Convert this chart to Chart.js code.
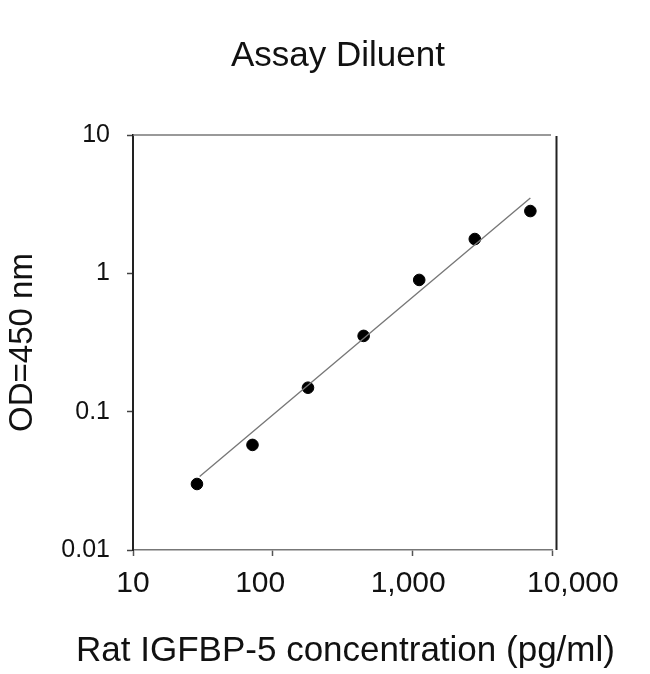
<!DOCTYPE html>
<html>
<head>
<meta charset="utf-8">
<title>Assay Diluent</title>
<script src="https://cdn.jsdelivr.net/npm/chart.js@4"></script>
<style>
  html, body { margin: 0; padding: 0; background: #fff; }
  #chart { display: block; }
</style>
</head>
<body>
<canvas id="chart" width="650" height="674"></canvas>
<script>
// standard curve points
const concentrations = [28.7, 71.7, 179, 448, 1120, 2800, 7000];
const odValues = [0.030, 0.0575, 0.149, 0.353, 0.896, 1.77, 2.82];

// fitted line ends
const fitX = [30, 7000];
const fitY = [0.034, 3.5];

// axis ticks
const xTickValues = [10, 100, 1000, 10000];
const yTickValues = [0.01, 0.1, 1, 10];

const chartTitle = 'Assay Diluent';
const xTitle = 'Rat IGFBP-5 concentration (pg/ml)';
const yTitle = 'OD=450 nm';

const FONT = "'Liberation Sans', Arial, sans-serif";

// the source puts the x labels a little off their ticks;
// nudge them with spaces (in px, + = right)
const xLabelNudge = [0, -12, -4, 19];
function nudge(text, px) {
  const n = Math.round(Math.abs(px) * 2 / 8.34); // nbsp ~ 8.34px at 30px
  const pad = '\u00a0'.repeat(n);
  return px > 0 ? pad + text : text + pad;
}

// frame (top + right) and the two titles; the axis title of Chart.js
// gets squeezed to the scale width, so the long x title is drawn here
const framePlugin = {
  id: 'frame',
  afterDraw(chart) {
    const { ctx, chartArea: a } = chart;
    ctx.save();
    ctx.strokeStyle = '#777';
    ctx.lineWidth = 1.5;
    ctx.beginPath();
    ctx.moveTo(a.left, a.top);
    ctx.lineTo(a.right - 1, a.top);
    ctx.stroke();
    ctx.strokeStyle = '#222';
    ctx.lineWidth = 2;
    ctx.beginPath();
    ctx.moveTo(a.right + 4.5, a.top + 1);
    ctx.lineTo(a.right + 4.5, a.bottom);
    ctx.stroke();

    ctx.fillStyle = '#111';
    ctx.textAlign = 'center';
    ctx.textBaseline = 'middle';
    ctx.font = '35px ' + FONT;
    ctx.fillText(chartTitle, 338, 56);
    ctx.fillText(xTitle, 345.5, 651);
    ctx.restore();
  }
};

new Chart(document.getElementById('chart'), {
  type: 'scatter',
  data: {
    datasets: [
      {
        label: 'fit',
        data: fitX.map((x, i) => ({ x: x, y: fitY[i] })),
        showLine: true,
        borderColor: '#777',
        borderWidth: 1.4,
        pointRadius: 0
      },
      {
        label: 'OD',
        data: concentrations.map((x, i) => ({ x: x, y: odValues[i] })),
        showLine: false,
        pointRadius: 5.8,
        pointBackgroundColor: '#000',
        pointBorderColor: '#000'
      }
    ]
  },
  options: {
    responsive: false,
    animation: false,
    devicePixelRatio: 1,
    layout: { padding: { left: 0, right: 98, top: 135, bottom: 0 } },
    plugins: {
      legend: { display: false },
      tooltip: { enabled: false },
      title: { display: false }
    },
    scales: {
      x: {
        type: 'logarithmic',
        min: 10,
        max: 10000,
        afterBuildTicks(scale) {
          scale.ticks = xTickValues.map(v => ({ value: v }));
        },
        afterFit(scale) { scale.height = 124; },
        border: { color: '#777', width: 1.5 },
        grid: { drawOnChartArea: false, tickLength: 6, tickColor: '#555', tickWidth: 1.5 },
        ticks: {
          color: '#111',
          padding: 10,
          maxRotation: 0,
          autoSkip: false,
          font: { family: FONT, size: 30 },
          callback: (v, i) => nudge(Number(v).toLocaleString('en-US'), xLabelNudge[i] || 0)
        }
      },
      y: {
        type: 'logarithmic',
        min: 0.01,
        max: 10,
        afterBuildTicks(scale) {
          scale.ticks = yTickValues.map(v => ({ value: v }));
        },
        afterFit(scale) { scale.width = 133; },
        border: { color: '#222', width: 2 },
        grid: { drawOnChartArea: false, tickLength: 6, tickColor: '#444', tickWidth: 1.5 },
        ticks: {
          color: '#111',
          padding: 17,
          autoSkip: false,
          font: { family: FONT, size: 25 },
          callback: v => String(v)
        },
        title: {
          display: true,
          text: yTitle,
          color: '#111',
          font: { family: FONT, size: 33 },
          padding: { top: 3, bottom: 0 }
        }
      }
    }
  },
  plugins: [framePlugin]
});
</script>
</body>
</html>
